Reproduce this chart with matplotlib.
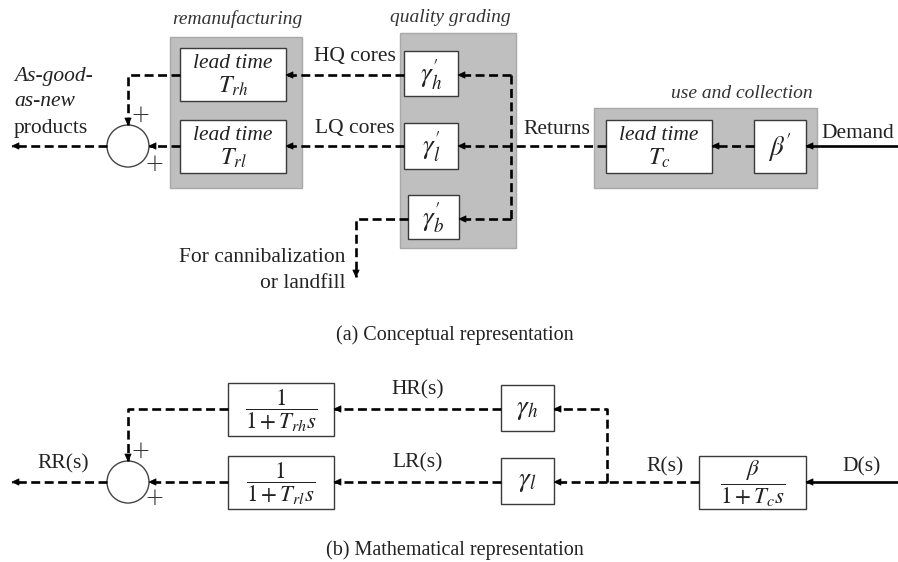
import matplotlib
matplotlib.use("Agg")
import matplotlib.pyplot as plt
from matplotlib.patches import Rectangle, Circle, Polygon

plt.rcParams['mathtext.fontset'] = 'stix'
plt.rcParams['font.family'] = ['Liberation Serif', 'DejaVu Serif']

# ---- text content ----
group_labels = ["remanufacturing", "quality grading", "use and collection"]
top_flow_labels = ["HQ cores", "LQ cores", "Returns", "Demand"]
top_block_labels = [r"$\gamma_h'$", r"$\gamma_l'$", r"$\gamma_b'$", r"$\beta'$"]
lead_time_subs = [r"$T_{rh}$", r"$T_{rl}$", r"$T_c$"]
bottom_flow_labels = ["HR(s)", "LR(s)", "R(s)", "D(s)", "RR(s)"]
bottom_block_labels = [r"$\dfrac{1}{1+T_{rh}s}$", r"$\dfrac{1}{1+T_{rl}s}$",
                       r"$\gamma_h$", r"$\gamma_l$", r"$\dfrac{\beta}{1+T_c s}$"]
captions = ["(a) Conceptual representation", "(b) Mathematical representation"]

W, H = 898, 562
fig = plt.figure(figsize=(W / 100, H / 100), dpi=100)
ax = fig.add_axes([0, 0, 1, 1])
ax.set_xlim(0, W)
ax.set_ylim(H, 0)
ax.axis('off')

GRAY = '#bfbfbf'
LW = 1.9
DASH = (0, (3.4, 1.7))


def rect(x0, y0, x1, y1, fc='white', ec='#3a3a3a', lw=1.0, z=2):
    ax.add_patch(Rectangle((x0, y0), x1 - x0, y1 - y0, fc=fc, ec=ec, lw=lw, zorder=z))


def line(pts, dashed=True):
    xs = [p[0] for p in pts]
    ys = [p[1] for p in pts]
    ax.plot(xs, ys, color='black', lw=LW, ls=DASH if dashed else '-',
            solid_capstyle='butt', dash_capstyle='butt', zorder=3)


def head(x, y, d):
    L, Wd = 7, 3.2
    if d == 'left':
        pts = [(x, y), (x + L, y - Wd), (x + L, y + Wd)]
    elif d == 'down':
        pts = [(x, y), (x - Wd, y - L), (x + Wd, y - L)]
    ax.add_patch(Polygon(pts, closed=True, fc='black', ec='black', lw=0.5, zorder=4))


def arrow(pts, dashed=True):
    line(pts, dashed)
    (xa, ya), (xb, yb) = pts[-2], pts[-1]
    if yb == ya:
        head(xb, yb, 'left')
    else:
        head(xb, yb, 'down')


def plus(x, y):
    ax.text(x, y, "+", ha='center', va='center', fontsize=17, color='#333',
            family='DejaVu Sans', fontweight='light')


FS = 15.5
serif = dict(fontsize=FS, color='#222222')

# ================= (a) conceptual =================
rect(170, 37, 302, 188, fc=GRAY, ec='#a8a8a8', z=1)
rect(400, 33, 516, 248, fc=GRAY, ec='#a8a8a8', z=1)
rect(594, 108, 817, 188, fc=GRAY, ec='#a8a8a8', z=1)
ax.text(237, 19, group_labels[0], ha='center', va='center', style='italic', fontsize=14, color='#333')
ax.text(450, 17, group_labels[1], ha='center', va='center', style='italic', fontsize=14, color='#333')
ax.text(742, 93, group_labels[2], ha='center', va='center', style='italic', fontsize=14, color='#333')

for (x0, y0, x1, y1), sub in zip([(180, 48, 286, 101), (180, 120, 286, 173), (606, 120, 712, 173)],
                                 lead_time_subs):
    rect(x0, y0, x1, y1)
    cx = (x0 + x1) / 2
    ax.text(cx, y0 + 15, "lead time", ha='center', va='center', style='italic', **serif)
    ax.text(cx, y0 + 38, sub, ha='center', va='center', fontsize=FS + 2, color='#222')

gboxes = [(404, 51, 458, 96), (404, 123, 458, 169), (408, 195, 459, 239), (754, 120, 806, 173)]
for (x0, y0, x1, y1), lab in zip(gboxes, top_block_labels):
    rect(x0, y0, x1, y1)
    ax.text((x0 + x1) / 2, (y0 + y1) / 2 + 1, lab, ha='center', va='center', fontsize=FS + 4, color='#222')

ax.add_patch(Circle((128, 146), 21, fc='white', ec='#444', lw=1.0, zorder=2))
plus(140, 115)
plus(154, 164)

line([(898, 146), (806, 146)], dashed=False)
head(806, 146, 'left')
arrow([(754, 146), (712, 146)])
line([(606, 146), (511, 146)])
line([(511, 75), (511, 219)])
arrow([(511, 75), (458, 75)])
arrow([(511, 146), (458, 146)])
arrow([(511, 219), (459, 219)])
arrow([(404, 75), (286, 75)])
arrow([(404, 146), (286, 146)])
arrow([(180, 75), (128, 75), (128, 125)])
arrow([(180, 146), (149, 146)])
arrow([(107, 146), (12, 146)])
arrow([(408, 219), (356, 219), (356, 277)])

ax.text(355, 57, top_flow_labels[0], ha='center', va='center', **serif)
ax.text(355, 128, top_flow_labels[1], ha='center', va='center', **serif)
ax.text(557, 130, top_flow_labels[2], ha='center', va='center', **serif)
ax.text(858, 133, top_flow_labels[3], ha='center', va='center', **serif)
ax.text(14, 76, "As-good-", ha='left', va='center', style='italic', **serif)
ax.text(14, 102, "as-new", ha='left', va='center', style='italic', **serif)
ax.text(14, 128, "products", ha='left', va='center', **serif)
ax.text(345, 257, "For cannibalization", ha='right', va='center', **serif)
ax.text(345, 283, "or landfill", ha='right', va='center', **serif)

ax.text(455, 335, captions[0], ha='center', va='center', fontsize=14.5, color='#222')

# ================= (b) mathematical =================
bboxes = [(228, 383, 334, 436), (228, 456, 334, 509), (501, 385, 554, 431), (501, 458, 554, 504),
          (699, 456, 806, 509)]
for i, ((x0, y0, x1, y1), lab) in enumerate(zip(bboxes, bottom_block_labels)):
    rect(x0, y0, x1, y1)
    fs = FS + 4 if i in (2, 3) else FS + 1
    ax.text((x0 + x1) / 2, (y0 + y1) / 2 + 1, lab, ha='center', va='center', fontsize=fs, color='#222')

ax.add_patch(Circle((128, 482), 21, fc='white', ec='#444', lw=1.0, zorder=2))
plus(140, 451)
plus(154, 498)

line([(898, 482), (806, 482)], dashed=False)
head(806, 482, 'left')
line([(699, 482), (607, 482)])
arrow([(607, 482), (554, 482)])
arrow([(607, 482), (607, 409), (554, 409)])
arrow([(501, 409), (334, 409)])
arrow([(501, 482), (334, 482)])
arrow([(228, 409), (128, 409), (128, 461)])
arrow([(228, 482), (149, 482)])
arrow([(107, 482), (12, 482)])

ax.text(418, 390, bottom_flow_labels[0], ha='center', va='center', **serif)
ax.text(418, 463, bottom_flow_labels[1], ha='center', va='center', **serif)
ax.text(665, 467, bottom_flow_labels[2], ha='center', va='center', **serif)
ax.text(862, 467, bottom_flow_labels[3], ha='center', va='center', **serif)
ax.text(63, 464, bottom_flow_labels[4], ha='center', va='center', **serif)

ax.text(455, 550, captions[1], ha='center', va='center', fontsize=14.5, color='#222')

fig.savefig("out.png", dpi=100)
